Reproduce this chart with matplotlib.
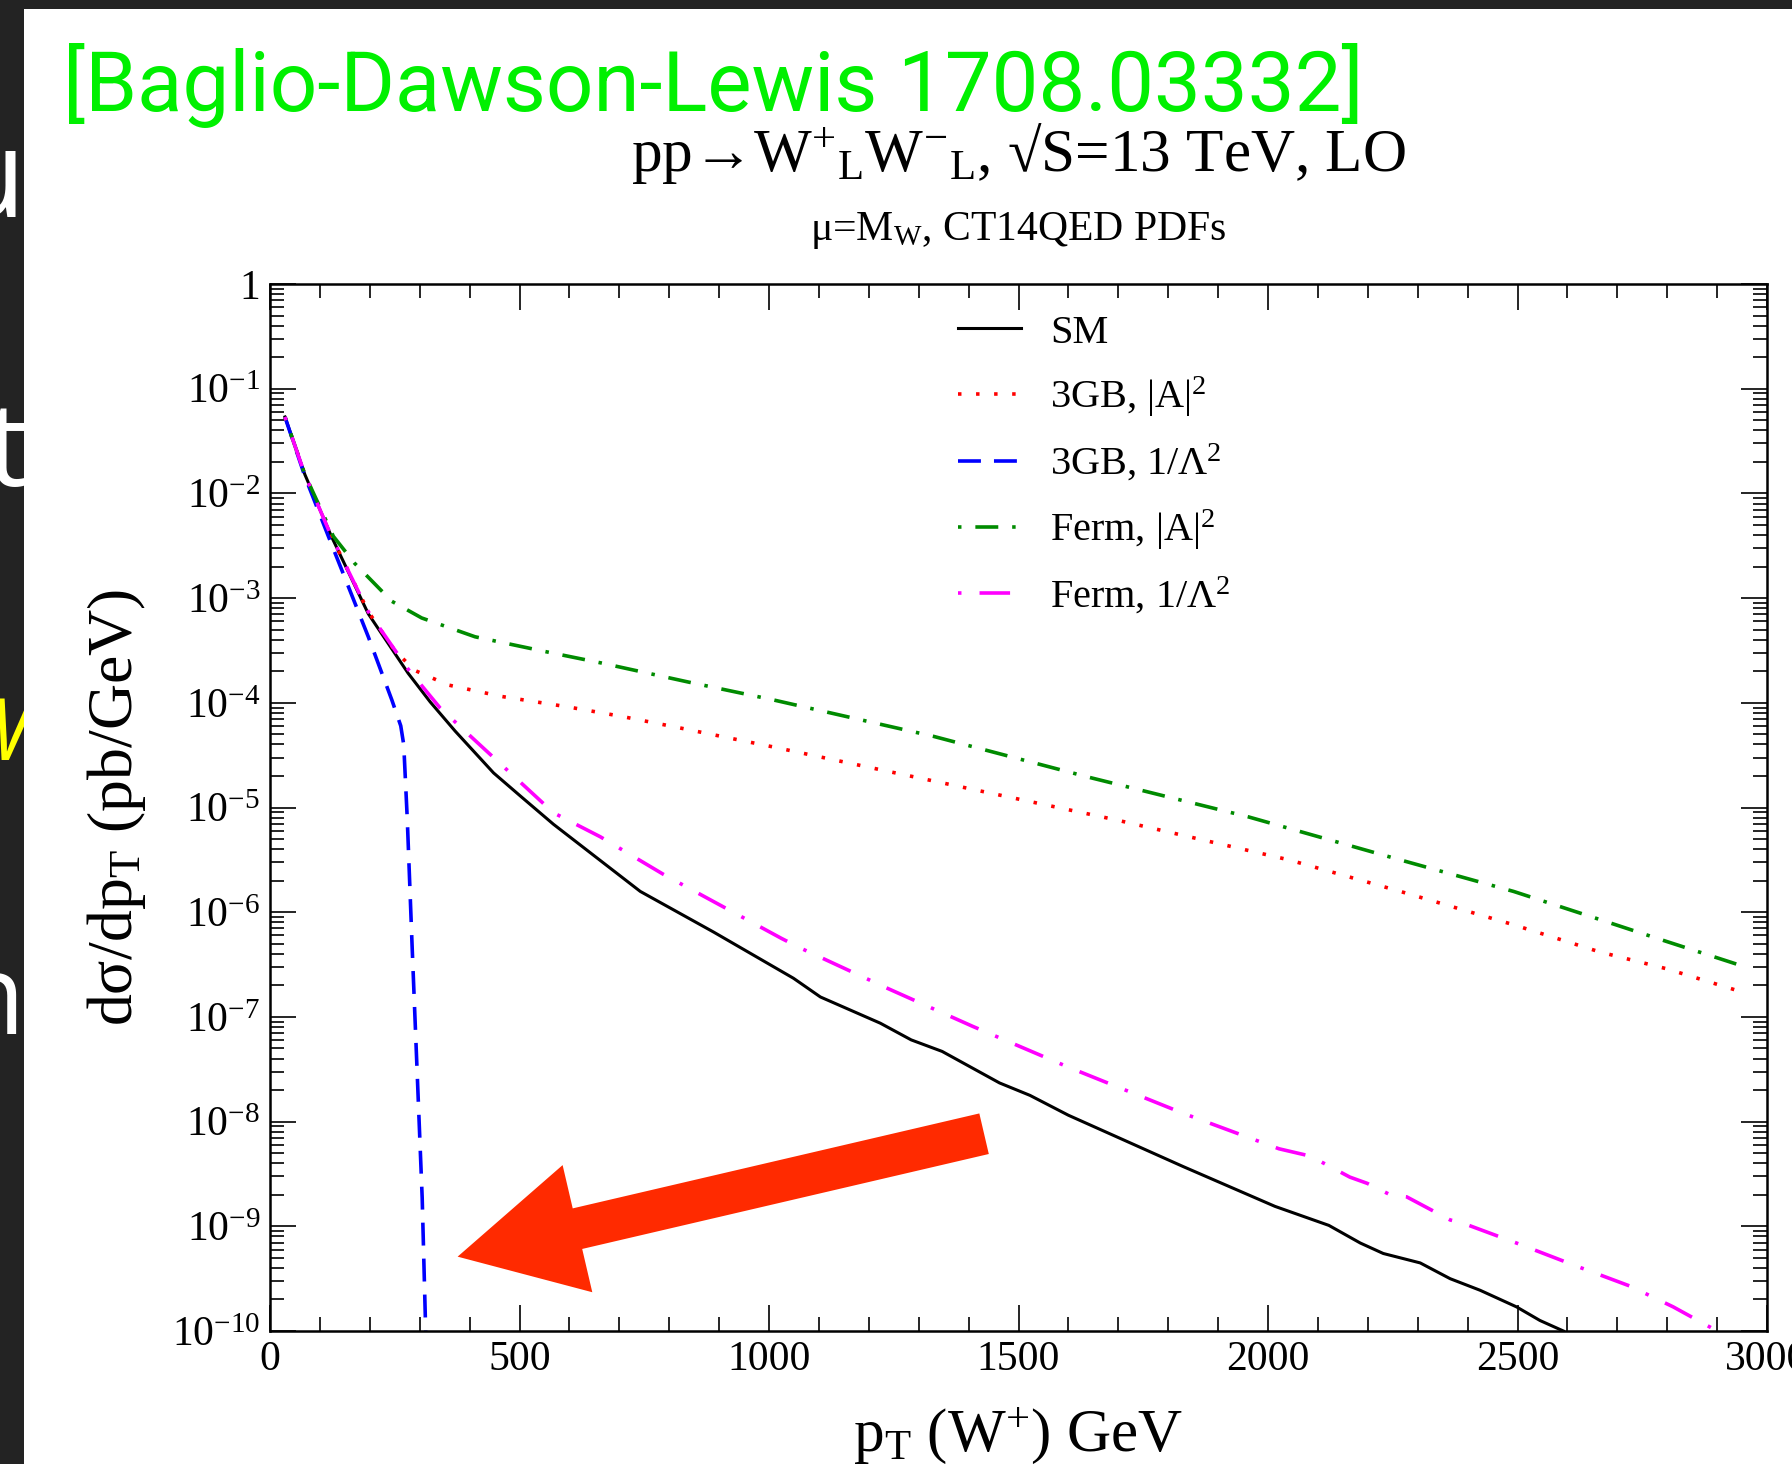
import math
import matplotlib
matplotlib.use('Agg')
import matplotlib.pyplot as plt
from matplotlib.patches import Rectangle, ArrowStyle
from matplotlib.ticker import LogLocator, FuncFormatter, MultipleLocator, NullFormatter

plt.rcParams['font.family'] = ['Liberation Serif', 'DejaVu Serif']
plt.rcParams['mathtext.fontset'] = 'custom'
plt.rcParams['mathtext.rm'] = 'Liberation Serif'
plt.rcParams['mathtext.it'] = 'Liberation Serif:italic'
plt.rcParams['mathtext.bf'] = 'Liberation Serif:bold'
plt.rcParams['lines.scale_dashes'] = False

# pT (GeV) and dsigma/dpT (pb/GeV), pp -> W+_L W-_L at 13 TeV, LO
sm_pt = [30, 70, 123, 197, 277, 321, 371, 448, 504, 568, 742, 889, 1049, 1103, 1223,
         1285, 1347, 1462, 1523, 1600, 1830, 2014, 2122, 2185, 2231, 2305, 2365, 2425,
         2498, 2545, 2592]
sm_xs = [5.37e-2, 1.51e-2, 3.89e-3, 7.08e-4, 1.91e-4, 1.02e-4, 5.37e-5, 2.14e-5, 1.26e-5,
         6.92e-6, 1.58e-6, 6.46e-7, 2.34e-7, 1.55e-7, 8.71e-8, 6.03e-8, 4.68e-8, 2.34e-8,
         1.78e-8, 1.15e-8, 3.72e-9, 1.55e-9, 1.02e-9, 6.92e-10, 5.50e-10, 4.47e-10,
         3.16e-10, 2.45e-10, 1.70e-10, 1.26e-10, 1.0e-10]

gb_a2_pt = [30, 70, 123, 197, 250, 290, 357, 464, 598, 705, 811, 1007, 1352, 1697, 2042,
            2265, 2492, 2665, 2799, 2962]
gb_a2_xs = [5.37e-2, 1.51e-2, 3.89e-3, 7.41e-4, 3.16e-4, 2.04e-4, 1.48e-4, 1.15e-4,
            9.12e-5, 7.41e-5, 5.89e-5, 3.80e-5, 1.70e-5, 7.59e-6, 3.16e-6, 1.58e-6,
            7.59e-7, 4.17e-7, 2.88e-7, 1.66e-7]

gb_lam_pt = [30, 70, 117, 157, 197, 244, 262, 268, 275, 285, 295, 305, 312]
gb_lam_xs = [5.37e-2, 1.45e-2, 3.89e-3, 1.29e-3, 4.27e-4, 1.07e-4, 6.03e-5, 3.98e-5,
             7.94e-6, 4.47e-7, 2.88e-8, 1.86e-9, 1.0e-10]

ferm_a2_pt = [30, 70, 127, 170, 244, 304, 411, 551, 664, 838, 1007, 1329, 1640, 1961,
              2265, 2492, 2665, 2799, 2942]
ferm_a2_xs = [5.37e-2, 1.51e-2, 3.89e-3, 2.14e-3, 9.33e-4, 6.46e-4, 4.27e-4, 3.09e-4,
              2.40e-4, 1.58e-4, 1.07e-4, 4.79e-5, 1.95e-5, 8.13e-6, 3.16e-6, 1.58e-6,
              8.51e-7, 5.25e-7, 3.16e-7]

ferm_lam_pt = [30, 70, 123, 197, 277, 341, 411, 568, 662, 789, 1025, 1062, 1239, 1408,
               1600, 1830, 2022, 2085, 2164, 2199, 2245, 2278, 2365, 2391, 2498, 2618,
               2725, 2812, 2892]
ferm_lam_xs = [5.37e-2, 1.51e-2, 3.89e-3, 7.41e-4, 2.09e-4, 8.91e-5, 4.37e-5, 8.91e-6,
               5.25e-6, 2.29e-6, 5.62e-7, 4.57e-7, 1.86e-7, 8.13e-8, 3.31e-8, 1.20e-8,
               5.50e-9, 4.68e-9, 2.95e-9, 2.57e-9, 2.00e-9, 1.91e-9, 1.15e-9, 1.07e-9,
               6.92e-10, 4.17e-10, 2.69e-10, 1.70e-10, 1.05e-10]

labels = ['SM', '3GB, |A|$^{2}$', '3GB, 1/Λ$^{2}$', 'Ferm, |A|$^{2}$', 'Ferm, 1/Λ$^{2}$']
x_ticks = [0, 500, 1000, 1500, 2000, 2500, 3000]

W, H = 1792, 1464


def fx(px):
    return px / W


def fy(py):
    return 1 - py / H


fig = plt.figure(figsize=(W / 100, H / 100), dpi=100, facecolor='#232323')

# slide text cut off at the left edge, then the white slide body over it
side_font = ['Open Sans', 'DejaVu Sans']
fig.text(fx(25), fy(217), 'u', color='white', fontsize=88, family=side_font,
         ha='right', va='baseline', zorder=-2)
fig.text(fx(27), fy(486), 't', color='white', fontsize=85, family=side_font,
         ha='right', va='baseline', zorder=-2)
fig.text(fx(29), fy(760), 'W', color='#ffff00', fontsize=62, family=side_font,
         style='italic', ha='right', va='baseline', zorder=-2)
fig.text(fx(25), fy(1034), 'n', color='white', fontsize=80, family=side_font,
         ha='right', va='baseline', zorder=-2)
fig.add_artist(Rectangle((fx(24), 0), 1 - fx(24), fy(9), transform=fig.transFigure,
                         facecolor='white', edgecolor='none', zorder=-1))

ax = fig.add_axes([fx(270), fy(1331), (1767 - 270) / W, (1331 - 284) / H])

ax.semilogy(sm_pt, sm_xs, color='black', lw=2.2, label=labels[0])
ax.semilogy(gb_a2_pt, gb_a2_xs, color='#ff0000', lw=2.6, ls=(0, (2.5, 10.5)),
            label=labels[1])
ax.semilogy(gb_lam_pt, gb_lam_xs, color='#0000ff', lw=2.6, ls=(0, (16.5, 9.4)),
            label=labels[2])
ax.semilogy(ferm_a2_pt, ferm_a2_xs, color='#008b00', lw=2.6, ls=(0, (2.5, 10, 16.5, 10)),
            label=labels[3])
ax.semilogy(ferm_lam_pt, ferm_lam_xs, color='#ff00ff', lw=2.6, ls=(0, (2.5, 13, 22, 13)),
            label=labels[4])

ax.set_xlim(0, 3000)
ax.set_ylim(1e-10, 1)

ax.set_xticks(x_ticks)
ax.set_xticklabels([str(t) for t in x_ticks])
ax.xaxis.set_minor_locator(MultipleLocator(100))
ax.yaxis.set_major_locator(LogLocator(base=10, numticks=20))
ax.yaxis.set_minor_locator(LogLocator(base=10, subs=range(2, 10), numticks=20))
ax.yaxis.set_minor_formatter(NullFormatter())


def decade_label(v, pos):
    if v >= 1:
        return '1'
    return '10$^{-%d}$' % round(-math.log10(v))


ax.yaxis.set_major_formatter(FuncFormatter(decade_label))

ax.tick_params(which='both', direction='in', top=True, right=True, width=1.2,
               labelsize=30, colors='black')
ax.tick_params(which='major', length=19)
ax.tick_params(which='minor', length=10)
ax.tick_params(axis='x', pad=7)
ax.tick_params(axis='y', pad=7)
for sp in ax.spines.values():
    sp.set_linewidth(1.8)

ax.set_xlabel('p$_{\\mathrm{T}}$ (W$^{+}$) GeV', fontsize=44, va='baseline')
ax.xaxis.set_label_coords(0.5, (1331 - 1451) / 1047)
ax.set_ylabel('dσ/dp$_{\\mathrm{T}}$ (pb/GeV)', fontsize=46, va='center')
ax.yaxis.set_label_coords((117 - 270) / 1497, 0.5)

ax.legend(loc='upper left', bbox_to_anchor=(0.4597, 0.971), frameon=False, fontsize=29,
          handlelength=1.56, handletextpad=0.72, labelspacing=0.58, borderpad=0,
          borderaxespad=0)

ax.annotate('', xy=(376, 5.13e-10), xytext=(1431, 7.66e-9),
            arrowprops=dict(arrowstyle=ArrowStyle.Simple(head_length=88.6, head_width=94,
                                                         tail_width=30),
                            mutation_scale=1, color='#ff2a00', lw=0,
                            shrinkA=0, shrinkB=0),
            zorder=6)

# plot titles
cx = fx((270 + 1767) / 2)
fig.text(cx, fy(171), 'pp→W$^{+}{}_{\\mathrm{L}}$W$^{-}{}_{\\mathrm{L}}$, √S=13 TeV, LO',
         fontsize=44, ha='center', va='baseline')
fig.text(cx, fy(240), 'μ=M$_{\\mathrm{W}}$, CT14QED PDFs', fontsize=30,
         ha='center', va='baseline')

fig.text(fx(63), fy(111), '[Baglio-Dawson-Lewis 1708.03332]', color='#00f000',
         fontsize=60, family=['Roboto', 'DejaVu Sans'], ha='left', va='baseline',
         zorder=10)

fig.savefig('out.png', dpi=100, facecolor=fig.get_facecolor())
